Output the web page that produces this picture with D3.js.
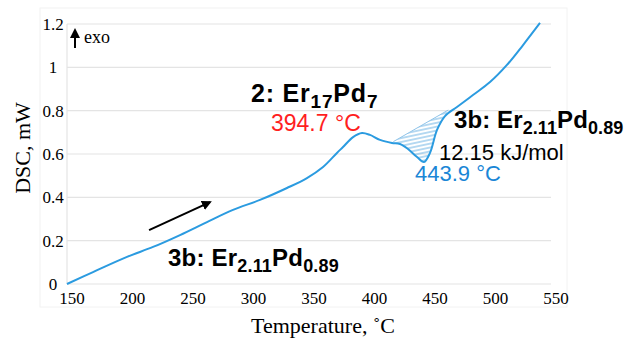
<!DOCTYPE html>
<html>
<head>
<meta charset="utf-8">
<script src="https://cdn.jsdelivr.net/npm/d3@7"></script>
<style>
  body { margin: 0; background: #fff; }
  svg { display: block; }
</style>
</head>
<body>
<svg id="chart" width="627" height="340"></svg>
<script>
// DSC trace
const temperature = [150, 171.5, 199.6, 221.1, 243.4, 265.7, 287.2, 309.5, 331.8, 348.3, 361.6, 373.1, 378.1, 386.4, 393.8, 400.4, 408.7, 418.6, 425.2, 431.8, 439.3, 445.0, 450.0, 455.8, 462.4, 472.3, 485.5, 499.6, 513.6, 526.9, 540.9];
const dsc = [0, 0.055, 0.125, 0.171, 0.226, 0.286, 0.342, 0.388, 0.443, 0.489, 0.540, 0.605, 0.632, 0.678, 0.697, 0.688, 0.665, 0.651, 0.646, 0.623, 0.586, 0.563, 0.605, 0.711, 0.775, 0.817, 0.872, 0.932, 1.011, 1.103, 1.205];
const xTicks = [150, 200, 250, 300, 350, 400, 450, 500, 550];
const yTicks = [0, 0.2, 0.4, 0.6, 0.8, 1, 1.2];
// integration baseline of the endothermic peak
const peakBaseT = [419.7, 465.1];
const peakBaseY = [0.657, 0.803];
// heating direction arrow
const arrowT = [217.8, 268.2];
const arrowY = [0.249, 0.378];

const data = temperature.map((t, i) => ({t: t, v: dsc[i]}));

const svg = d3.select('#chart');
const blue = '#2b9be0';

const xScale = d3.scaleLinear().domain([150, 550]).range([67, 551]);
const yScale = d3.scaleLinear().domain([0, 1.2]).range([284, 24]);

// faint chart area frame
svg.append('rect')
    .attr('x', 40).attr('y', 8).attr('width', 527).attr('height', 299)
    .attr('fill', 'none').attr('stroke', '#f2f2f2');

// gridlines
svg.append('g').selectAll('line')
    .data(yTicks)
    .join('line')
    .attr('x1', xScale(150)).attr('x2', xScale(550))
    .attr('y1', d => yScale(d)).attr('y2', d => yScale(d))
    .attr('stroke', '#e4e4e4').attr('stroke-width', 1.2);

svg.append('line')
    .attr('x1', xScale(150)).attr('x2', xScale(150))
    .attr('y1', yScale(0)).attr('y2', yScale(1.2))
    .attr('stroke', '#e4e4e4').attr('stroke-width', 1.2);

// tick labels
svg.append('g').selectAll('text')
    .data(yTicks)
    .join('text')
    .attr('x', 53).attr('y', d => yScale(d))
    .attr('dy', '0.35em')
    .attr('text-anchor', 'middle')
    .style('font-family', '"Liberation Serif", "Times New Roman", serif')
    .style('font-size', '17px')
    .text(d => d);

svg.append('g').selectAll('text')
    .data(xTicks)
    .join('text')
    .attr('x', d => xScale(d) + 5).attr('y', 304)
    .attr('text-anchor', 'middle')
    .style('font-family', '"Liberation Serif", "Times New Roman", serif')
    .style('font-size', '17px')
    .text(d => d);

// axis titles
svg.append('text')
    .attr('transform', 'translate(30,148) rotate(-90)')
    .attr('text-anchor', 'middle')
    .style('font-family', '"Liberation Serif", "Times New Roman", serif')
    .style('font-size', '22px')
    .text('DSC, mW');

svg.append('text')
    .attr('x', 323).attr('y', 333)
    .attr('text-anchor', 'middle')
    .style('font-family', '"Liberation Serif", "Times New Roman", serif')
    .style('font-size', '22px')
    .text('Temperature, ˚C');

// arrow heads
const defs = svg.append('defs');
defs.append('marker')
    .attr('id', 'head')
    .attr('viewBox', '0 0 10 10')
    .attr('refX', 8).attr('refY', 5)
    .attr('markerWidth', 5).attr('markerHeight', 5)
    .attr('orient', 'auto')
    .append('path').attr('d', 'M0,0 L10,5 L0,10 z').attr('fill', '#000');
defs.append('marker')
    .attr('id', 'exoHead')
    .attr('viewBox', '0 0 10 10')
    .attr('refX', 6).attr('refY', 5)
    .attr('markerWidth', 5).attr('markerHeight', 5.5)
    .attr('orient', 'auto')
    .append('path').attr('d', 'M0,0 L10,5 L0,10 z').attr('fill', '#000');

// exo marker
svg.append('line')
    .attr('x1', 75).attr('y1', 48).attr('x2', 75).attr('y2', 32)
    .attr('stroke', '#000').attr('stroke-width', 2)
    .attr('marker-end', 'url(#exoHead)');
svg.append('text')
    .attr('x', 84).attr('y', 43)
    .style('font-family', '"Liberation Serif", "Times New Roman", serif')
    .style('font-size', '18px')
    .text('exo');

// hatched area between baseline and trace
const inPeak = data.filter(d => d.t > peakBaseT[0] && d.t < peakBaseT[1]);
const peakPoly = [{t: peakBaseT[0], v: peakBaseY[0]}].concat(inPeak, [{t: peakBaseT[1], v: peakBaseY[1]}]);

defs.append('pattern')
    .attr('id', 'hatch')
    .attr('patternUnits', 'userSpaceOnUse')
    .attr('width', 8).attr('height', 3.8)
    .attr('patternTransform', 'rotate(-12)')
    .append('line')
    .attr('x1', 0).attr('x2', 8).attr('y1', 1.9).attr('y2', 1.9)
    .attr('stroke', '#6fb4e4').attr('stroke-width', 1);

svg.append('path')
    .datum(peakPoly)
    .attr('d', d3.line().x(d => xScale(d.t)).y(d => yScale(d.v)).curve(d3.curveLinearClosed))
    .attr('fill', 'url(#hatch)');

svg.append('line')
    .attr('x1', xScale(peakBaseT[0])).attr('y1', yScale(peakBaseY[0]))
    .attr('x2', xScale(peakBaseT[1])).attr('y2', yScale(peakBaseY[1]))
    .attr('stroke', '#8fc4ea').attr('stroke-width', 1);

// DSC trace
svg.append('path')
    .datum(data)
    .attr('d', d3.line().x(d => xScale(d.t)).y(d => yScale(d.v)).curve(d3.curveCatmullRom))
    .attr('fill', 'none')
    .attr('stroke', blue)
    .attr('stroke-width', 2);

// heating arrow
svg.append('line')
    .attr('x1', xScale(arrowT[0])).attr('y1', yScale(arrowY[0]))
    .attr('x2', xScale(arrowT[1])).attr('y2', yScale(arrowY[1]))
    .attr('stroke', '#000').attr('stroke-width', 2)
    .attr('marker-end', 'url(#head)');

// phase labels
function phaseLabel(x, y, parts, size, subSize, spacing) {
    const t = svg.append('text')
        .attr('x', x).attr('y', y)
        .style('font-family', '"Liberation Sans", Arial, sans-serif')
        .style('font-weight', 'bold')
        .style('font-size', size + 'px')
        .style('letter-spacing', spacing + 'px');
    let shift = 0;
    parts.forEach(p => {
        const s = t.append('tspan').text(p[0]);
        const target = p[1] ? 6 : 0;
        s.attr('dy', target - shift);
        shift = target;
        if (p[1]) s.style('font-size', subSize + 'px');
    });
}

phaseLabel(251, 102, [['2: Er', 0], ['17', 1], ['Pd', 0], ['7', 1]], 25, 19, 0.8);
phaseLabel(454, 128, [['3b: Er', 0], ['2.11', 1], ['Pd', 0], ['0.89', 1]], 24, 18, 0.1);
phaseLabel(168, 266, [['3b: Er', 0], ['2.11', 1], ['Pd', 0], ['0.89', 1]], 24, 18, 0.2);

svg.append('text')
    .attr('x', 271).attr('y', 131)
    .attr('fill', '#ff1f1f')
    .style('font-family', '"Liberation Sans", Arial, sans-serif')
    .style('font-size', '23px')
    .text('394.7 °C');

svg.append('text')
    .attr('x', 439).attr('y', 160)
    .style('font-family', '"Liberation Sans", Arial, sans-serif')
    .style('font-size', '22px')
    .text('12.15 kJ/mol');

svg.append('text')
    .attr('x', 415).attr('y', 181)
    .attr('fill', '#1a86d6')
    .style('font-family', '"Liberation Sans", Arial, sans-serif')
    .style('font-size', '22px')
    .text('443.9 °C');
</script>
</body>
</html>
